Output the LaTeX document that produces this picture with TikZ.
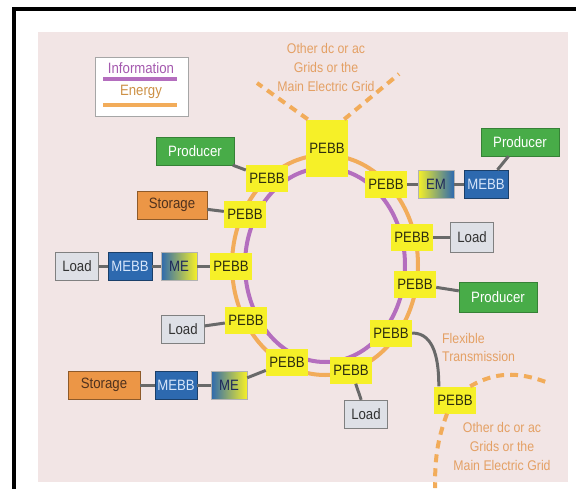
\documentclass[tikz,border=0pt]{standalone}
\usepackage{fontspec}
\setmainfont{Liberation Sans}[FakeStretch=0.88]

\definecolor{pinkbg}{RGB}{242,229,229}
\definecolor{pebbyellow}{RGB}{246,240,40}
\definecolor{pebbtext}{RGB}{45,45,15}
\definecolor{prodgreen}{RGB}{72,172,72}
\definecolor{storeorange}{RGB}{236,150,70}
\definecolor{storetext}{RGB}{80,50,30}
\definecolor{loadgray}{RGB}{222,224,230}
\definecolor{mebbblue}{RGB}{45,105,175}
\definecolor{mebbtext}{RGB}{215,230,250}
\definecolor{metext}{RGB}{30,40,90}
\definecolor{linkgray}{RGB}{105,105,105}
\definecolor{energyorange}{RGB}{242,172,90}
\definecolor{infopurple}{RGB}{180,110,190}
\definecolor{notetext}{RGB}{228,160,100}

\newcommand{\pebbfont}{\fontsize{15}{18}\selectfont}
\newcommand{\notefont}{\fontsize{14}{19}\selectfont}

\begin{document}
\begin{tikzpicture}[x=1pt, y=1pt, node distance=50pt,
    pebb node/.style={fill=pebbyellow, text=pebbtext, font=\pebbfont, inner sep=0pt,
                      minimum width=42pt, minimum height=27pt},
    producer node/.style={fill=prodgreen, draw=prodgreen!75!black, thin, text=white, font=\pebbfont,
                          inner sep=0pt, minimum width=78pt, minimum height=28pt},
    storage node/.style={fill=storeorange, draw=storeorange!60!black, thin, text=storetext, font=\pebbfont,
                         inner sep=0pt, minimum width=70pt, minimum height=28pt},
    load node/.style={fill=loadgray, draw=gray, thin, text=black!80, font=\pebbfont,
                      inner sep=0pt, minimum width=43pt, minimum height=28pt},
    mebb node/.style={fill=mebbblue, draw=mebbblue!60!black, thin, text=mebbtext, font=\pebbfont,
                      inner sep=0pt, minimum width=44pt, minimum height=28pt},
    me node/.style={left color=mebbblue, middle color=white, right color=pebbyellow, draw=gray!60, thin,
                    text=metext, font=\pebbfont, inner sep=0pt, minimum width=36pt, minimum height=28pt},
    em node/.style={left color=pebbyellow, middle color=white, right color=mebbblue, draw=gray!60, thin,
                    text=metext, font=\pebbfont, inner sep=0pt, minimum width=36pt, minimum height=28pt},
    link/.style={draw=linkgray, line width=3pt},
    energy/.style={draw=energyorange, line width=4pt},
    info/.style={draw=infopurple, line width=4pt},
    grid dash/.style={energy, dash pattern=on 8pt off 6pt},
    note/.style={text=notetext, font=\notefont, align=center, inner sep=0pt}]

  \useasboundingbox (0,0) rectangle (576,-488);
  \clip (0,0) rectangle (576,-488);
  \fill[white] (0,0) rectangle (576,-488);
  \fill[pinkbg] (38,-32) rectangle (568,-482);
  \draw[line width=4pt] (14,-520) -- (14,-9) -- (620,-9);

  % legend
  \node[draw=gray!70, fill=white, thin, minimum width=93pt, minimum height=59pt] (legend) at (141.5,-86.5) {};
  \node[text={rgb,255:red,165;green,90;blue,175}, font=\pebbfont] (leginfo) at (141,-68) {Information};
  \node[text={rgb,255:red,205;green,145;blue,70}, font=\pebbfont] (legenergy) at (141,-92) {Energy};
  \draw[info] (103,-79) -- (177,-79);
  \draw[energy] (103,-105) -- (177,-105);

  % ring
  \draw[energy] (325,-265) ellipse [x radius=93, y radius=110];
  \draw[info] (325,-265) ellipse [x radius=80, y radius=97];

  \node[pebb node, minimum height=57pt] (pt) at (327,-148) {PEBB};
  \node[pebb node] (pur) at (386,-184) {PEBB};
  \node[pebb node] (pr2) at (412,-237) {PEBB};
  \node[pebb node] (pr3) at (415,-284) {PEBB};
  \node[pebb node] (pr4) at (391,-333) {PEBB};
  \node[pebb node] (pb) at (351,-370) {PEBB};
  \node[pebb node] (pbl) at (287,-362) {PEBB};
  \node[pebb node] (pl4) at (246,-320) {PEBB};
  \node[pebb node] (pl3) at (231,-266) {PEBB};
  \node[pebb node] (pl2) at (245,-214) {PEBB};
  \node[pebb node] (pul) at (267,-178) {PEBB};
  \node[pebb node] (pfar) at (455,-400) {PEBB};

  % sources, loads and storages
  \node[producer node] (produl) at (195,-151) {Producer};
  \node[storage node] (stoul) at (172,-205) {Storage};
  \node[me node] (mel) [left of=pl3, node distance=52pt] {ME};
  \node[mebb node] (mebbl) [left of=mel, node distance=49pt] {MEBB};
  \node[load node] (loadl) [left of=mebbl, node distance=53pt] {Load};
  \node[load node] (loadll) at (183,-329) {Load};
  \node[me node] (meb) at (229,-385) {ME};
  \node[mebb node, minimum width=42pt] (mebbb) [left of=meb, node distance=53pt] {MEBB};
  \node[storage node, minimum width=72pt] (stob) [left of=mebbb, node distance=72pt] {Storage};
  \node[em node] (emr) [right of=pur, node distance=50pt] {EM};
  \node[mebb node] (mebbr) [right of=emr, node distance=50pt] {MEBB};
  \node[producer node] (prodtr) at (520,-142) {Producer};
  \node[load node, minimum height=30pt] (loadr) [right of=pr2, node distance=60pt] {Load};
  \node[producer node, minimum height=30pt] (prodr) at (498,-297) {Producer};
  \node[load node] (loadb) at (366,-414) {Load};

  \path[every edge/.style={link}]
    (produl) edge (pul)
    (stoul) edge (pl2)
    (loadl) edge (mebbl)
    (mebbl) edge (mel)
    (mel) edge (pl3)
    (loadll) edge (pl4)
    (stob) edge (mebbb)
    (mebbb) edge (meb)
    (meb) edge (pbl)
    (pur) edge (emr)
    (emr) edge (mebbr)
    (mebbr) edge (prodtr)
    (pr2) edge (loadr)
    (pr3) edge (prodr)
    (pb) edge (loadb)
    (pr4.east) edge[out=0, in=90] ([xshift=5pt]pfar.north west);

  % other grids
  \coordinate (gridtl) at (257,-83);
  \coordinate (gridtr) at (399,-74);
  \coordinate (gridbr) at (546,-382);
  \coordinate (gridbd) at (435,-488);
  \draw[grid dash] ([xshift=2pt]pt.north west) -- (gridtl);
  \draw[grid dash] ([xshift=-4pt]pt.north east) -- (gridtr);
  \draw[grid dash] ([xshift=-6pt]pfar.north east) to[out=30, in=160] (gridbr);
  \draw[grid dash] ([xshift=-8pt]pfar.south) to[out=250, in=90] (gridbd);

  \node[note] (topgrid) at (326,-67) {Other dc or ac\\Grids or the\\Main Electric Grid};
  \node[note] (botgrid) at (502,-446) {Other dc or ac\\Grids or the\\Main Electric Grid};
  \node[note, align=left, anchor=west, font=\fontsize{14}{18}\selectfont] (flex) at (442,-347) {Flexible\\Transmission};
\end{tikzpicture}
\end{document}
